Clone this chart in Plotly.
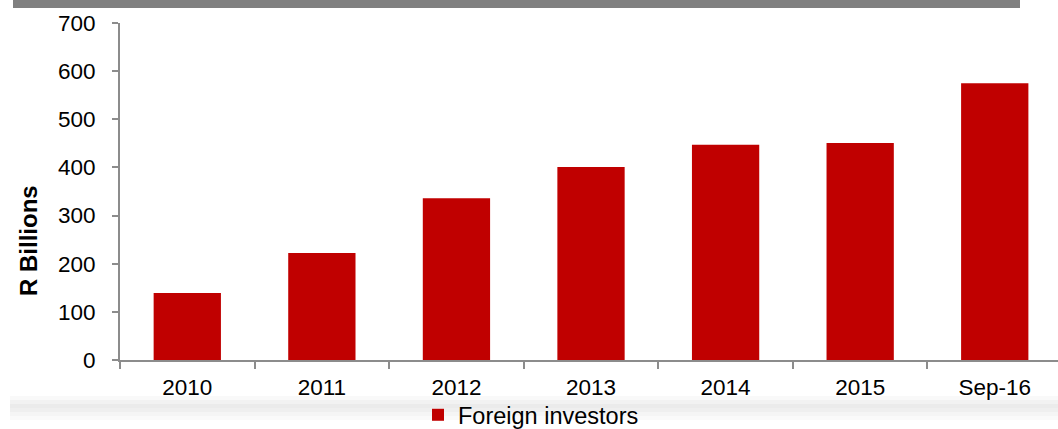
import plotly.graph_objects as go

categories = ["2010", "2011", "2012", "2013", "2014", "2015", "Sep-16"]
foreign_investors = [139, 222, 336, 401, 447, 451, 575]
y_ticks = [0, 100, 200, 300, 400, 500, 600, 700]

W, H = 1058, 429
FONT = "Liberation Sans, Arial, sans-serif"
AXIS_COL = "#8c8c8c"

fig = go.Figure()
fig.add_trace(go.Bar(
    x=categories, y=foreign_investors, name="Foreign investors",
    marker=dict(color="#C00000", line=dict(width=0)),
))

shapes = [
    # cropped title banner at top
    dict(type="rect", xref="paper", yref="paper",
         x0=(13 - 120) / 938, x1=(1020 - 120) / 938,
         y0=(360 - 8) / 337, y1=360 / 337,
         fillcolor="#808080", line=dict(width=0), layer="above"),
]
# soft shadow band near the bottom
band = [(396, 400, 0.25), (400, 404, 0.5), (404, 408, 0.8), (408, 412, 0.65),
        (412, 416, 0.4), (416, 420, 0.2)]
for y0, y1, op in band:
    shapes.append(dict(type="rect", xref="paper", yref="paper",
                       x0=(10 - 120) / 938, x1=1.0,
                       y0=(360 - y1) / 337, y1=(360 - y0) / 337,
                       fillcolor="#e6e6e6", opacity=op, line=dict(width=0),
                       layer="below"))

fig.update_layout(
    width=W, height=H,
    margin=dict(l=120, r=0, t=23, b=69, pad=0, autoexpand=False),
    paper_bgcolor="white", plot_bgcolor="white",
    font=dict(family=FONT, size=22, color="black"),
    bargap=0.5,
    showlegend=True,
    legend=dict(orientation="h", xref="container", yref="container",
                x=418 / W, xanchor="left", y=(H - 415) / H, yanchor="middle",
                font=dict(size=23.5), bgcolor="rgba(0,0,0,0)",
                itemclick=False),
    shapes=shapes,
    annotations=[dict(text="<b>R Billions</b>", textangle=-90,
                      xref="paper", yref="paper",
                      x=(28 - 120) / 938, y=(360 - 241) / 337,
                      xanchor="center", yanchor="middle", showarrow=False,
                      font=dict(size=24, family=FONT))],
)
fig.update_xaxes(
    type="category", range=[-0.5, 6.47], automargin=False,
    showline=True, linecolor=AXIS_COL, linewidth=2,
    ticks="outside", ticklen=7, tickcolor=AXIS_COL, tickwidth=2,
    tickson="boundaries", showgrid=False, zeroline=False,
    ticklabelstandoff=6,
    tickfont=dict(size=22.5),
)
fig.update_yaxes(
    range=[0, 700], tickvals=y_ticks, automargin=False,
    showline=True, linecolor=AXIS_COL, linewidth=2,
    ticks="outside", ticklen=6, tickcolor=AXIS_COL, tickwidth=2,
    showgrid=False, zeroline=False, ticklabelstandoff=12,
    tickfont=dict(size=22.5),
)

fig.write_html("out.html")
